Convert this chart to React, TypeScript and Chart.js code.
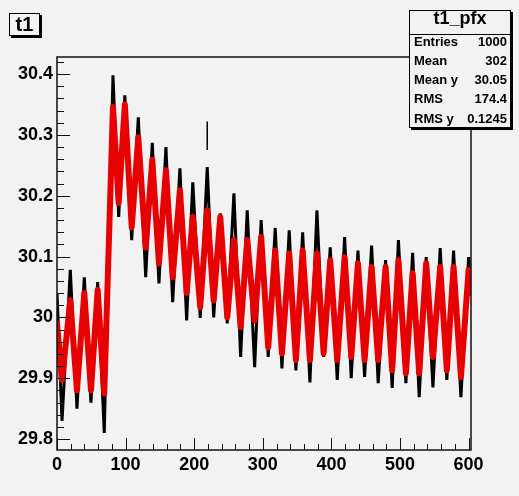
import React, { useEffect, useRef } from "react";
import { Chart, registerables } from "chart.js";

Chart.register(...registerables);

// Turning points of the profile (x position, red marker level, black error-bar extreme)
const binX = [
  0, 7.3, 19.4, 29.1, 39.8, 49.5, 59.3, 68.9, 81.6, 89.9, 98.9, 108.9, 118.5, 129.3, 138.9,
  148.6, 158.8, 168.6, 179.2, 189.0, 197.9, 208.8, 219.0, 228.4, 238.0, 248.2, 257.9, 267.7,
  277.3, 288.1, 297.6, 307.9, 318.1, 327.9, 338.5, 348.3, 358.1, 368.7, 378.9, 388.7, 398.3,
  408.5, 419.3, 428.9, 438.7, 448.4, 458.6, 468.2, 479.0, 488.6, 497.7, 508.6, 518.4, 528.0,
  538.2, 548.0, 558.6, 568.3, 578.1, 588.8, 600.0, 603,
];
const redY = [
  29.99, 29.897, 30.028, 29.88, 30.04, 29.88, 30.045, 29.875, 30.346, 30.188, 30.35, 30.148,
  30.296, 30.115, 30.259, 30.089, 30.242, 30.066, 30.209, 30.04, 30.165, 30.017, 30.176, 30.028,
  30.165, 30.0, 30.127, 29.984, 30.127, 29.995, 30.132, 29.951, 30.11, 29.941, 30.105, 29.93,
  30.11, 29.93, 30.105, 29.941, 30.094, 29.93, 30.099, 29.935, 30.089, 29.93, 30.083, 29.93,
  30.083, 29.913, 30.094, 29.908, 30.073, 29.908, 30.089, 29.935, 30.083, 29.913, 30.083,
  29.902, 30.078, 30.04,
];
const blackY = [
  30.04, 29.83, 30.078, 29.85, 30.066, 29.86, 30.058, 29.81, 30.398, 30.165, 30.365, 30.127,
  30.329, 30.066, 30.287, 30.056, 30.28, 30.025, 30.245, 29.995, 30.222, 29.999, 30.247, 30.0,
  30.171, 29.99, 30.204, 29.935, 30.176, 29.918, 30.16, 29.935, 30.147, 29.916, 30.143, 29.913,
  30.14, 29.893, 30.176, 29.935, 30.115, 29.897, 30.132, 29.9, 30.11, 29.902, 30.118, 29.892,
  30.094, 29.884, 30.127, 29.892, 30.106, 29.869, 30.099, 29.885, 30.114, 29.897, 30.11,
  29.869, 30.099, 30.05,
];
const spikeX = [219, 219];
const spikeY = [30.275, 30.322];

const xTickValues = [0, 100, 200, 300, 400, 500, 600];
const xTickLabels = ["0", "100", "200", "300", "400", "500", "600"];
const yTickValues = [29.8, 29.9, 30, 30.1, 30.2, 30.3, 30.4];
const yTickLabels = ["29.8", "29.9", "30", "30.1", "30.2", "30.3", "30.4"];

const histTitle = "t1";
const statsTitle = "t1_pfx";
const statsLabels = ["Entries", "Mean", "Mean y", "RMS", "RMS y"];
const statsValues = ["1000", "302", "30.05", "174.4", "0.1245"];

const X_MIN = 0;
const X_MAX = 603.5;
const Y_MIN = 29.782;
const Y_MAX = 30.428;

const FONT = '"Liberation Sans", Arial, Helvetica, sans-serif';
const BG = "#f2f2f2";

const frameTicks = {
  id: "frameTicks",
  afterDatasetsDraw(chart: any) {
    const { ctx, chartArea: a, scales } = chart;
    const xs = scales.x;
    const ys = scales.y;
    ctx.save();
    ctx.strokeStyle = "#111";
    ctx.lineWidth = 1;
    ctx.beginPath();
    for (let k = -1; k <= 32; k++) {
      const v = 29.8 + k * 0.02;
      if (v < Y_MIN || v > Y_MAX) continue;
      const py = Math.round(ys.getPixelForValue(v)) + 0.5;
      const len = k % 5 === 0 ? 13 : 7;
      ctx.moveTo(a.left, py);
      ctx.lineTo(a.left + len, py);
    }
    for (let k = 0; k <= 30; k++) {
      const v = k * 20;
      if (v < X_MIN || v > X_MAX) continue;
      const px = Math.round(xs.getPixelForValue(v)) + 0.5;
      const len = k % 5 === 0 ? 12 : 6;
      ctx.moveTo(px, a.bottom);
      ctx.lineTo(px, a.bottom - len);
    }
    ctx.stroke();
    ctx.lineWidth = 1.5;
    ctx.strokeStyle = "#111";
    ctx.strokeRect(a.left, a.top, a.right - a.left, a.bottom - a.top);
    ctx.restore();
  },
};

export default function App() {
  const canvasRef = useRef<HTMLCanvasElement | null>(null);

  useEffect(() => {
    const canvas = canvasRef.current;
    if (!canvas) return;
    const redData = binX.map((x, i) => ({ x, y: redY[i] }));
    const blackData = binX.map((x, i) => ({ x, y: blackY[i] }));
    const spikeData = spikeX.map((x, i) => ({ x, y: spikeY[i] }));
    const chart = new Chart(canvas, {
      type: "line",
      data: {
        datasets: [
          {
            data: redData,
            borderColor: "#e60000",
            borderWidth: 6,
            borderJoinStyle: "round",
            borderCapStyle: "round",
            pointRadius: 0,
            tension: 0,
            order: 0,
          },
          {
            data: blackData,
            borderColor: "#000",
            borderWidth: 3,
            pointRadius: 0,
            tension: 0,
            order: 1,
          },
          {
            data: spikeData,
            borderColor: "#000",
            borderWidth: 1.5,
            pointRadius: 0,
            tension: 0,
            order: 2,
          },
        ],
      },
      options: {
        responsive: false,
        animation: false,
        devicePixelRatio: 1,
        layout: { padding: { top: 57, right: 48, left: 0, bottom: 0 } },
        plugins: {
          legend: { display: false },
          tooltip: { enabled: false },
          title: { display: false },
        },
        scales: {
          x: {
            type: "linear",
            min: X_MIN,
            max: X_MAX,
            grid: { display: false, drawTicks: false },
            border: { display: false },
            afterBuildTicks: (s: any) => {
              s.ticks = xTickValues.map((v) => ({ value: v }));
            },
            afterFit: (s: any) => {
              s.height = 46;
            },
            ticks: {
              autoSkip: false,
              maxRotation: 0,
              padding: 4,
              color: "#000",
              font: { family: FONT, size: 18, weight: "bold" },
              callback: (_v: any, i: number) => xTickLabels[i],
            },
          },
          y: {
            type: "linear",
            min: Y_MIN,
            max: Y_MAX,
            grid: { display: false, drawTicks: false },
            border: { display: false },
            afterBuildTicks: (s: any) => {
              s.ticks = yTickValues.map((v) => ({ value: v }));
            },
            afterFit: (s: any) => {
              s.width = 57;
            },
            ticks: {
              autoSkip: false,
              padding: 4,
              color: "#000",
              font: { family: FONT, size: 18, weight: "bold" },
              callback: (_v: any, i: number) => yTickLabels[i],
            },
          },
        },
      } as any,
      plugins: [frameTicks],
    });
    return () => chart.destroy();
  }, []);

  const rowCenters = [41, 60.5, 79, 98.5, 118];

  return (
    <div
      style={{
        position: "fixed",
        left: 0,
        top: 0,
        width: 519,
        height: 496,
        background: BG,
        overflow: "hidden",
        fontFamily: FONT,
      }}
    >
      <canvas
        ref={canvasRef}
        width={519}
        height={496}
        style={{ position: "absolute", left: 0, top: 0, width: 519, height: 496 }}
      />
      <div
        style={{
          position: "absolute",
          left: 9,
          top: 13,
          width: 31,
          height: 23,
          boxSizing: "border-box",
          border: "1px solid #000",
          boxShadow: "2px 2px 0 #000",
          background: BG,
          fontWeight: "bold",
          fontSize: 20,
          lineHeight: "21px",
          textAlign: "center",
          color: "#000",
        }}
      >
        {histTitle}
      </div>
      <div
        style={{
          position: "absolute",
          left: 409,
          top: 10,
          width: 102,
          height: 118,
          boxSizing: "border-box",
          border: "1px solid #000",
          boxShadow: "2px 2px 0 #000",
          background: BG,
        }}
      />
      <div
        style={{
          position: "absolute",
          left: 410,
          top: 34,
          width: 100,
          height: 1,
          background: "#000",
        }}
      />
      <div
        style={{
          position: "absolute",
          left: 410,
          top: 9,
          width: 100,
          fontWeight: "bold",
          fontSize: 18,
          lineHeight: "18px",
          textAlign: "center",
          color: "#000",
        }}
      >
        {statsTitle}
      </div>
      {statsLabels.map((lab, i) => (
        <React.Fragment key={lab}>
          <div
            style={{
              position: "absolute",
              left: 414,
              top: rowCenters[i] - 6.4,
              fontWeight: "bold",
              fontSize: 13,
              lineHeight: "13px",
              color: "#000",
              whiteSpace: "nowrap",
            }}
          >
            {lab}
          </div>
          <div
            style={{
              position: "absolute",
              left: 460,
              width: 47,
              top: rowCenters[i] - 6.4,
              fontWeight: "bold",
              fontSize: 13,
              lineHeight: "13px",
              textAlign: "right",
              color: "#000",
              whiteSpace: "nowrap",
            }}
          >
            {statsValues[i]}
          </div>
        </React.Fragment>
      ))}
    </div>
  );
}
